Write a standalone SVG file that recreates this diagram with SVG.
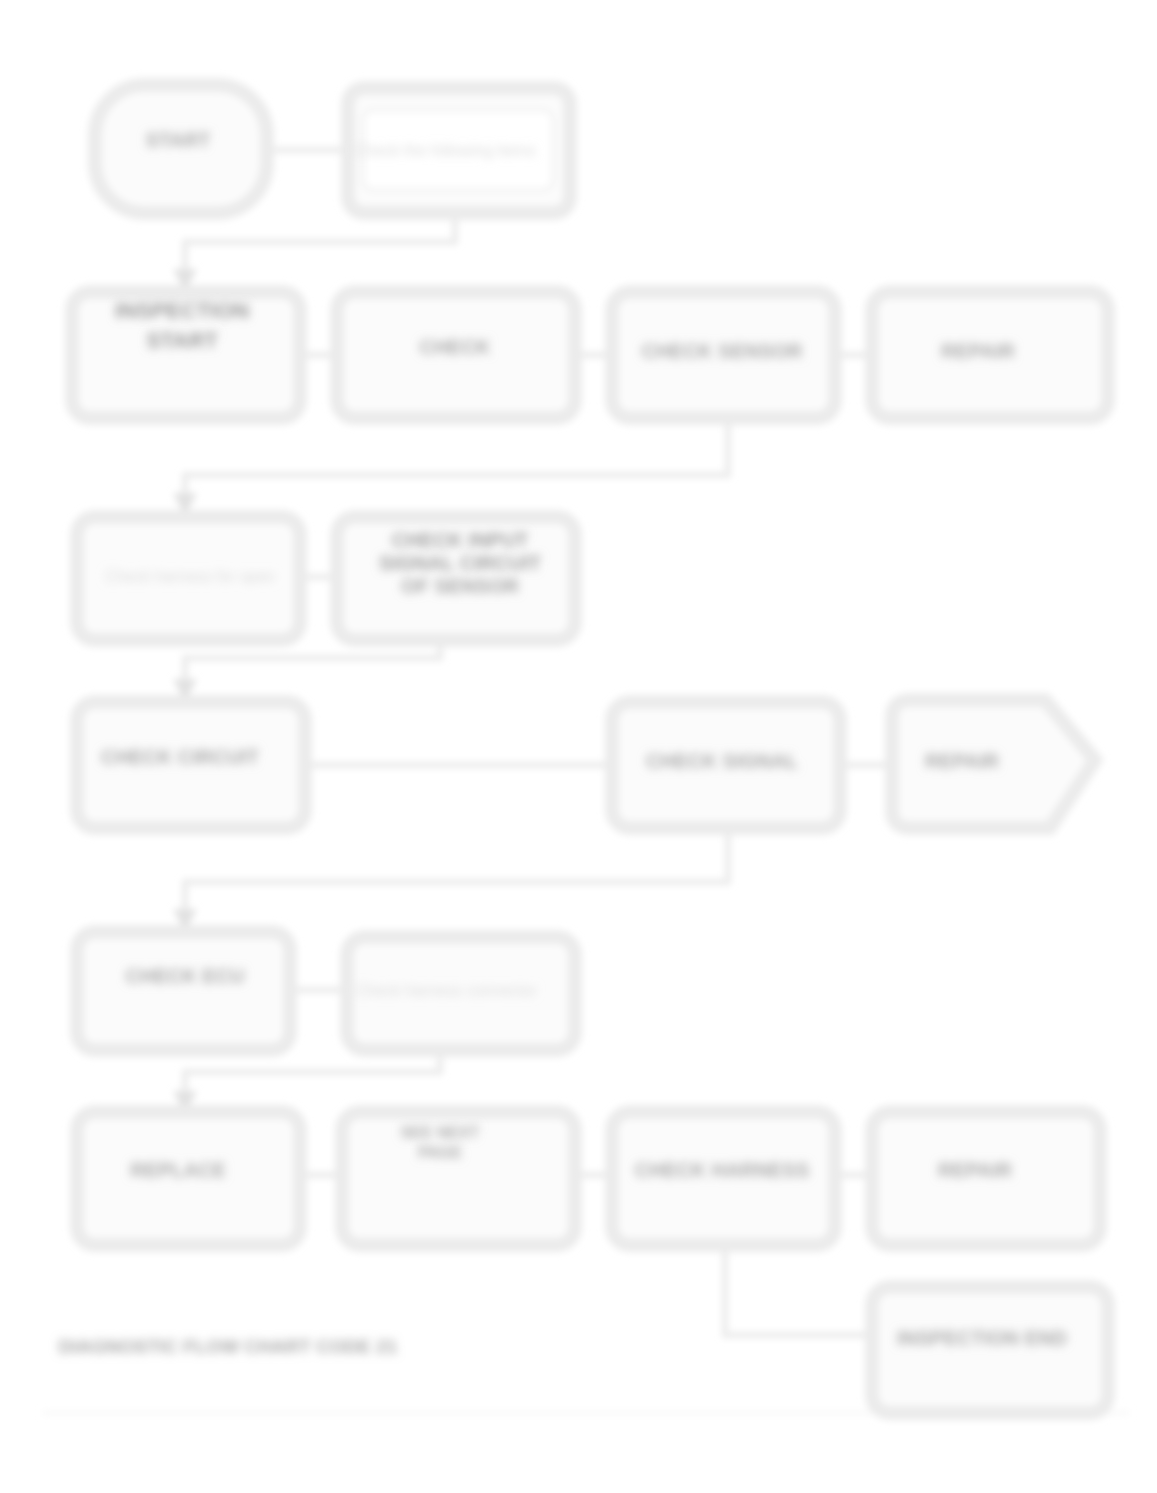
<svg xmlns="http://www.w3.org/2000/svg" width="1157" height="1493" viewBox="0 0 1157 1493">
<defs>
<filter id="blur" x="-5%" y="-5%" width="110%" height="110%"><feGaussianBlur stdDeviation="3.5"/></filter>
<filter id="tblur" x="-20%" y="-60%" width="140%" height="220%"><feGaussianBlur stdDeviation="5"/></filter>
<marker id="arr" viewBox="0 0 10 10" refX="8" refY="5" markerWidth="4" markerHeight="4" orient="auto"><path d="M0,0 L10,5 L0,10 z" fill="#e2e2e2"/></marker>
</defs>
<style>
.box{fill:#fbfbfb;stroke:#ebebeb;stroke-width:14}
.inner{fill:#ffffff;stroke:#f3f3f3;stroke-width:4}
.con{fill:none;stroke:#ebebeb;stroke-width:6}
.t{font-family:"Liberation Sans",Arial,sans-serif;font-size:20px;fill:#c2c2c2;text-anchor:middle;filter:url(#tblur)}
.b{font-weight:bold;fill:#aaaaaa}
.l{fill:#dadada;font-size:16px}
</style>
<rect width="1157" height="1493" fill="#ffffff"/>
<g filter="url(#blur)">
<g id="connectors">
<path class="con" d="M272,150 H345"/>
<path class="con" d="M455,215 V242 H185 V288" marker-end="url(#arr)"/>
<path class="con" d="M302,355 H335"/>
<path class="con" d="M577,355 H610"/>
<path class="con" d="M837,355 H870"/>
<path class="con" d="M728,420 V475 H185 V512" marker-end="url(#arr)"/>
<path class="con" d="M302,577 H335"/>
<path class="con" d="M440,642 V658 H185 V698" marker-end="url(#arr)"/>
<path class="con" d="M307,765 H610"/>
<path class="con" d="M842,765 H890"/>
<path class="con" d="M728,832 V882 H185 V928" marker-end="url(#arr)"/>
<path class="con" d="M292,990 H345"/>
<path class="con" d="M440,1052 V1072 H185 V1110" marker-end="url(#arr)"/>
<path class="con" d="M302,1175 H340"/>
<path class="con" d="M577,1175 H610"/>
<path class="con" d="M837,1175 H870"/>
<path class="con" d="M725,1247 V1335 H870"/>
<path class="con" d="M42,1413 H1130" style="stroke:#f6f6f6;stroke-width:3"/>
</g>
<g id="nA"><rect class="box" x="95" y="85" width="172" height="128" rx="50"/></g>
<g id="nB"><rect class="box" x="348" y="88" width="222" height="125" rx="16"/><rect class="inner" x="363" y="110" width="190" height="80" rx="10"/></g>
<g id="nC"><rect class="box" x="72" y="292" width="228" height="126" rx="18"/></g>
<g id="nD"><rect class="box" x="337" y="292" width="238" height="126" rx="18"/></g>
<g id="nE"><rect class="box" x="612" y="292" width="223" height="126" rx="18"/></g>
<g id="nF"><rect class="box" x="872" y="292" width="236" height="126" rx="18"/></g>
<g id="nG"><rect class="box" x="77" y="517" width="223" height="123" rx="18"/></g>
<g id="nH"><rect class="box" x="337" y="517" width="238" height="123" rx="18"/></g>
<g id="nI"><rect class="box" x="77" y="702" width="228" height="126" rx="18"/></g>
<g id="nJ"><rect class="box" x="612" y="702" width="228" height="126" rx="18"/></g>
<g id="nK"><path class="box" d="M910,700 H1045 L1095,760 L1050,828 H910 Q892,828 892,810 V718 Q892,700 910,700 z"/></g>
<g id="nL"><rect class="box" x="77" y="932" width="213" height="118" rx="18"/></g>
<g id="nM"><rect class="box" x="347" y="937" width="228" height="113" rx="18"/></g>
<g id="nN"><rect class="box" x="77" y="1112" width="223" height="133" rx="18"/></g>
<g id="nO"><rect class="box" x="342" y="1112" width="233" height="133" rx="18"/></g>
<g id="nP"><rect class="box" x="612" y="1112" width="223" height="133" rx="18"/></g>
<g id="nQ"><rect class="box" x="872" y="1112" width="228" height="133" rx="18"/></g>
<g id="nR"><rect class="box" x="872" y="1287" width="236" height="126" rx="18"/></g>
</g>
<g id="labels">
<text class="t b" x="178" y="147">START</text>
<text class="t l" x="445" y="156">Check the following items</text>
<text class="t b" x="182" y="318" style="font-size:22px;fill:#999">INSPECTION</text><text class="t b" x="182" y="348" style="font-size:22px;fill:#999">START</text>
<text class="t b" x="455" y="354">CHECK</text>
<text class="t b" x="722" y="358">CHECK SENSOR</text>
<text class="t b" x="978" y="358">REPAIR</text>
<text class="t l" x="190" y="582">Check harness for open</text>
<text class="t b" x="460" y="547" style="fill:#9e9e9e">CHECK INPUT</text><text class="t b" x="460" y="570" style="fill:#9e9e9e">SIGNAL CIRCUIT</text><text class="t b" x="460" y="593" style="fill:#a4a4a4">OF SENSOR</text>
<text class="t b" x="180" y="764">CHECK CIRCUIT</text>
<text class="t b" x="722" y="768">CHECK SIGNAL</text>
<text class="t b" x="962" y="768">REPAIR</text>
<text class="t b" x="185" y="983">CHECK ECU</text>
<text class="t l" x="446" y="996">Check harness connector</text>
<text class="t b" x="178" y="1177">REPLACE</text>
<text class="t b" x="440" y="1138" style="font-size:16px">SEE NEXT</text><text class="t b" x="440" y="1158" style="font-size:16px">PAGE</text>
<text class="t b" x="722" y="1177">CHECK HARNESS</text>
<text class="t b" x="975" y="1177">REPAIR</text>
<text class="t b" x="982" y="1345">INSPECTION END</text>
<text class="t b" x="228" y="1353" style="font-size:19px;fill:#a8a8a8">DIAGNOSTIC FLOW CHART CODE 21</text>
</g>
</svg>
